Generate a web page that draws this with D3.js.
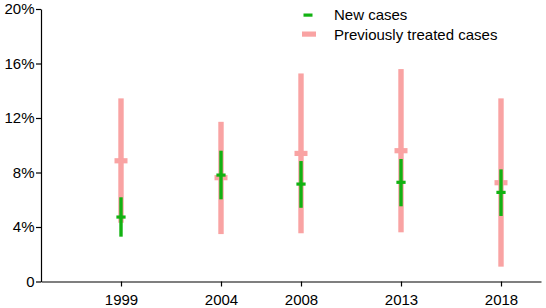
<!DOCTYPE html>
<html><head><meta charset="utf-8">
<script src="https://cdn.jsdelivr.net/npm/d3@7"></script>
<style>body{margin:0;background:#fff}svg{display:block}text{font-family:"Liberation Sans",Arial,sans-serif}</style>
</head><body><svg id="c" width="546" height="308"></svg>
<script>
const years = [1999, 2004, 2008, 2013, 2018];
const newMid = [4.73, 7.81, 7.15, 7.28, 6.54];
const newLow = [3.29, 6.03, 5.41, 5.52, 4.81];
const newHigh = [6.18, 9.6, 8.84, 8.99, 8.23];
const prevMid = [8.86, 7.62, 9.4, 9.6, 7.25];
const prevLow = [4.31, 3.48, 3.54, 3.61, 1.09];
const prevHigh = [13.44, 11.72, 15.27, 15.59, 13.44];
const yTicks = [0, 4, 8, 12, 16, 20];
const seriesNames = ["New cases", "Previously treated cases"];

const svg = d3.select("#c");
const x = d3.scaleLinear().domain([1995, 2020]).range([41, 541]);
const y = d3.scaleLinear().domain([0, 20]).range([281.5, 9]);

const pink = "#f9a3a3", green = "#12b212";

const xAxis = svg.append("g").attr("transform", "translate(0,281.5)")
  .call(d3.axisBottom(x).tickValues(years).tickFormat(d3.format("d")).tickSize(5).tickSizeOuter(0));
const yAxis = svg.append("g").attr("transform", "translate(41,0)")
  .call(d3.axisLeft(y).tickValues(yTicks).tickFormat(d => d === 0 ? "0" : d + "%").tickSize(5).tickSizeOuter(0));
[xAxis, yAxis].forEach(g => {
  g.selectAll("path,line").attr("stroke", "#000").attr("stroke-width", 1.2);
  g.selectAll("text").attr("font-size", 15).attr("fill", "#000").attr("font-family", "Liberation Sans, Arial, sans-serif");
});
xAxis.selectAll("text").attr("dy", "1.0em");
yAxis.selectAll("text").attr("dx", "0.1em");

// previously treated (pink)
const pg = svg.append("g");
years.forEach((yr, i) => {
  pg.append("rect").attr("x", x(yr) - 2.7).attr("width", 5.4)
    .attr("y", y(prevHigh[i])).attr("height", y(prevLow[i]) - y(prevHigh[i])).attr("fill", pink);
  pg.append("rect").attr("x", x(yr) - 6.5).attr("width", 13)
    .attr("y", y(prevMid[i]) - 2.6).attr("height", 5.2).attr("fill", pink);
});
// new cases (green)
const gg = svg.append("g");
years.forEach((yr, i) => {
  gg.append("rect").attr("x", x(yr) - 1.7).attr("width", 3.4)
    .attr("y", y(newHigh[i])).attr("height", y(newLow[i]) - y(newHigh[i])).attr("fill", green);
  gg.append("rect").attr("x", x(yr) - 4.6).attr("width", 9.2)
    .attr("y", y(newMid[i]) - 1.6).attr("height", 3.2).attr("fill", green);
});

// legend
const lg = svg.append("g");
lg.append("rect").attr("x", 303.5).attr("y", 13.5).attr("width", 9).attr("height", 3.2).attr("fill", green);
lg.append("rect").attr("x", 302).attr("y", 31.5).attr("width", 14).attr("height", 5.2).attr("fill", pink);
lg.selectAll("text.l").data(seriesNames).enter().append("text")
  .attr("x", 334).attr("y", (d, i) => 15 + i * 19.5).attr("dy", "0.36em")
  .attr("font-size", 15).attr("fill", "#000").text(d => d);
</script></body></html>
